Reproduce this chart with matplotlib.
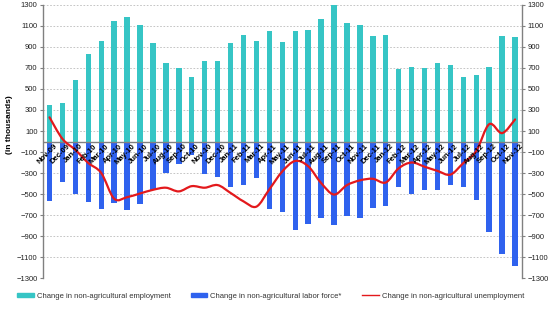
import matplotlib
matplotlib.use('Agg')
import matplotlib.pyplot as plt
import numpy as np
from matplotlib.path import Path
from matplotlib.patches import PathPatch
from matplotlib.lines import Line2D
from matplotlib.patches import Patch

plt.rcParams['font.family'] = ['Liberation Sans', 'DejaVu Sans']

months = ['Nov-09', 'Dec-09', 'Jan-10', 'Feb-10', 'Mar-10', 'Apr-10', 'May-10',
          'Jun-10', 'Jul-10', 'Aug-10', 'Sep-10', 'Oct-10', 'Nov-10', 'Dec-10',
          'Jan-11', 'Feb-11', 'Mar-11', 'Apr-11', 'May-11', 'Jun-11', 'Jul-11',
          'Aug-11', 'Sep-11', 'Oct-11', 'Nov-11', 'Dec-11', 'Jan-12', 'Feb-12',
          'Mar-12', 'Apr-12', 'May-12', 'Jun-12', 'Jul-12', 'Aug-12', 'Sep-12',
          'Oct-12', 'Nov-12']

employment = [345, 370, 590, 835, 960, 1145, 1185, 1105, 940, 750, 700, 610,
              765, 765, 940, 1010, 960, 1050, 950, 1050, 1065, 1170, 1305, 1130,
              1110, 1000, 1010, 690, 710, 700, 750, 725, 615, 630, 705, 1000, 995]

labor_force = [-565, -390, -500, -580, -640, -587, -650, -595, -457, -302, -213,
               -130, -311, -335, -430, -410, -343, -644, -667, -845, -790, -727,
               -797, -708, -725, -632, -613, -432, -498, -457, -463, -410, -432,
               -559, -857, -1073, -1184]

unemployment = [230, 25, -80, -205, -300, -545, -530, -495, -460, -440, -475,
                -425, -440, -415, -490, -570, -620, -455, -285, -185, -235, -395,
                -505, -415, -370, -355, -390, -255, -200, -240, -280, -315, -205,
                -90, 165, 80, 210]

yticks = list(range(-1300, 1301, 200))

teal = '#36C5C5'
blue = '#2F62EE'
red = '#E3191C'

fig = plt.figure(figsize=(5.52, 3.11), dpi=100)
ax = fig.add_axes([0.078, 0.106, 0.868, 0.878])

x = np.arange(len(months))
ax.bar(x, employment, width=0.42, color=teal, zorder=2)
ax.bar(x, labor_force, width=0.42, color=blue, zorder=2)

# smoothed line like excel: catmull-rom -> bezier segments
pts = np.column_stack([x, unemployment]).astype(float)
verts = [pts[0]]
codes = [Path.MOVETO]
n = len(pts)
for i in range(n - 1):
    p0 = pts[i - 1] if i > 0 else pts[i]
    p1 = pts[i]
    p2 = pts[i + 1]
    p3 = pts[i + 2] if i + 2 < n else pts[i + 1]
    c1 = p1 + (p2 - p0) / 6.0
    c2 = p2 - (p3 - p1) / 6.0
    verts += [c1, c2, p2]
    codes += [Path.CURVE4] * 3
ax.add_patch(PathPatch(Path(verts, codes), facecolor='none', edgecolor=red,
                       lw=1.6, zorder=4, capstyle='round', joinstyle='round'))

ax.axhline(0, color='#808080', lw=1.0, zorder=3)

ax.set_xlim(-0.5, len(months) - 0.45)
ax.set_ylim(-1300, 1300)
ax.set_yticks(yticks)
ax.set_xticks([])
ax.yaxis.grid(True, ls=(0, (2, 2)), color='#BBBBBB', lw=0.6, zorder=0)
ax.tick_params(axis='y', labelsize=5.5, length=2, color='#808080',
               labelcolor='#222222', right=True, labelright=True, pad=2)
for s in ['top', 'bottom']:
    ax.spines[s].set_visible(False)
for s in ['left', 'right']:
    ax.spines[s].set_color('#808080')
    ax.spines[s].set_linewidth(1.0)

for i, m in enumerate(months):
    ax.text(i + 0.35, -12, m, rotation=45, ha='right', va='top',
            rotation_mode='anchor', fontsize=5.5, fontweight='bold', zorder=5)

ax.set_ylabel('(in thousands)', fontsize=6, fontweight='bold')
ax.yaxis.set_label_coords(-0.063, 0.56)

handles = [Patch(color=teal), Patch(color=blue), Line2D([], [], color=red, lw=1)]
labels = ['Change in non-agricultural employment',
          'Change in non-agricultural labor force*',
          'Change in non-agricultural unemployment']
fig.legend(handles, labels, loc='center', bbox_to_anchor=(0.49, 0.048), ncol=3,
           frameon=False, fontsize=5.5, handlelength=2.2, handleheight=0.5,
           columnspacing=2.6, handletextpad=0.4, labelcolor='#333333')

fig.savefig('out.png', dpi=100)
